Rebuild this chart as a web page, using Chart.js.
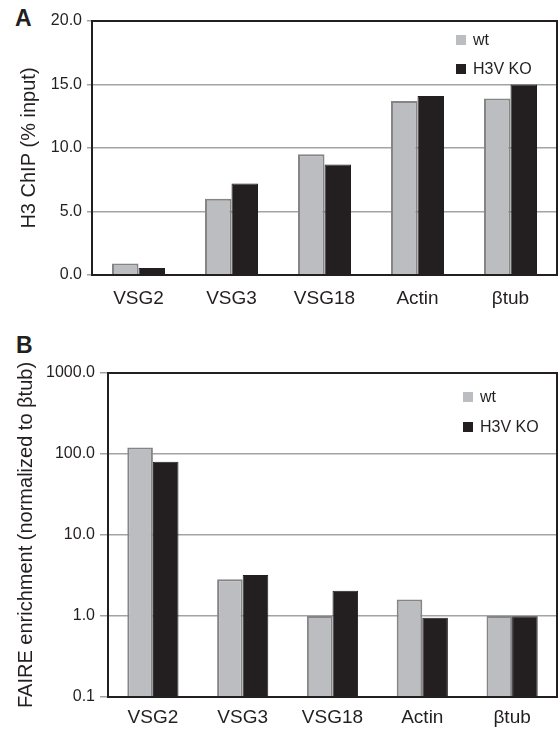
<!DOCTYPE html>
<html>
<head>
<meta charset="utf-8">
<script src="https://cdn.jsdelivr.net/npm/chart.js"></script>
<style>
body { margin: 0; background: #fff; width: 559px; height: 734px; position: relative; overflow: hidden; }
canvas { position: absolute; left: 0; }
.panel { position: absolute; font: bold 23px 'Liberation Sans', Arial, sans-serif; color: #231f20; }
</style>
</head>
<body>
<div class="panel" style="left:15px;top:5px">A</div>
<canvas id="chip" width="559" height="320" style="top:0"></canvas>
<div class="panel" style="left:16px;top:332px">B</div>
<canvas id="faire" width="559" height="414" style="top:320px"></canvas>
<script>
// values
const genes = ['VSG2', 'VSG3', 'VSG18', 'Actin', 'βtub'];
const seriesNames = ['wt', 'H3V KO'];
const chipWt = [0.9, 6.0, 9.5, 13.7, 13.9];
const chipKo = [0.55, 7.2, 8.7, 14.1, 15.0];
const faireWt = [120, 2.85, 1.0, 1.6, 1.0];
const faireKo = [80, 3.2, 2.05, 0.95, 0.99];
const chipTicks = [0, 5, 10, 15, 20];
const faireTicks = [0.1, 1, 10, 100, 1000];

const FONT = "'Liberation Sans', Arial, sans-serif";
const INK = '#231f20';
Chart.defaults.font.family = FONT;
Chart.defaults.color = INK;

// legend drawn inside the plot, upper right
const insideLegend = {
    id: 'insideLegend',
    afterDraw(chart, args, opts) {
        const ctx = chart.ctx;
        ctx.save();
        ctx.font = '16px ' + FONT;
        ctx.textBaseline = 'middle';
        chart.data.datasets.forEach((ds, i) => {
            const y = opts.y + i * opts.gap;
            ctx.fillStyle = ds.backgroundColor;
            ctx.fillRect(opts.x, y - 5, 10, 10);
            ctx.fillStyle = INK;
            ctx.fillText(ds.label, opts.x + 17, y + 1);
        });
        ctx.restore();
    }
};

// black box round the plot area
const frame = {
    id: 'frame',
    afterDraw(chart) {
        const a = chart.chartArea;
        const ctx = chart.ctx;
        ctx.save();
        ctx.strokeStyle = INK;
        ctx.lineWidth = 2;
        ctx.strokeRect(a.left, a.top, a.right - a.left, a.bottom - a.top);
        ctx.restore();
    }
};

function makeSets(wt, ko) {
    return [
        { label: seriesNames[0], data: wt, backgroundColor: '#bcbdc0', borderColor: '#858585', borderWidth: 2 },
        { label: seriesNames[1], data: ko, backgroundColor: INK, borderColor: INK, borderWidth: 1 }
    ];
}

function makeChart(id, cfg) {
    return new Chart(document.getElementById(id), {
        type: 'bar',
        data: { labels: genes, datasets: makeSets(cfg.wt, cfg.ko) },
        plugins: [insideLegend, frame],
        options: {
            responsive: false,
            animation: false,
            layout: { padding: { top: cfg.top, right: 2, left: 0, bottom: 0 } },
            datasets: { bar: { categoryPercentage: 0.57, barPercentage: 1.0 } },
            plugins: {
                legend: { display: false },
                tooltip: { enabled: false },
                insideLegend: cfg.legend
            },
            scales: {
                x: {
                    grid: { drawOnChartArea: false, drawTicks: false },
                    border: { color: INK, width: 2 },
                    ticks: { font: { size: 19 }, padding: cfg.xPad, color: INK },
                    afterFit: (s) => { s.height = cfg.xHeight; }
                },
                y: {
                    type: cfg.yType,
                    min: cfg.ticks[0],
                    max: cfg.ticks[cfg.ticks.length - 1],
                    afterBuildTicks: (s) => { s.ticks = cfg.ticks.map(v => ({ value: v })); },
                    grid: { color: '#a3a3a3', lineWidth: 1.5, tickLength: cfg.tickLen },
                    border: { color: INK, width: 2 },
                    ticks: {
                        font: { size: 16 }, color: INK, padding: cfg.yPad,
                        callback: (v) => Number(v).toFixed(1)
                    },
                    title: {
                        display: true, text: cfg.title, color: INK,
                        font: { size: 20 }, padding: { top: cfg.titlePad, bottom: 0 }
                    },
                    afterFit: (s) => { s.width = cfg.yWidth; }
                }
            }
        }
    });
}

makeChart('chip', {
    wt: chipWt, ko: chipKo, ticks: chipTicks, yType: 'linear',
    title: 'H3 ChIP (% input)', top: 21, xHeight: 45, xPad: 12,
    yWidth: 92, tickLen: 5, yPad: 5, titlePad: 17,
    legend: { x: 456, y: 40, gap: 29 }
});

makeChart('faire', {
    wt: faireWt, ko: faireKo, ticks: faireTicks, yType: 'logarithmic',
    title: 'FAIRE enrichment (normalized to βtub)', top: 53, xHeight: 37, xPad: 9,
    yWidth: 108, tickLen: 8, yPad: 5, titlePad: 14,
    legend: { x: 463, y: 77, gap: 30 }
});
</script>
</body>
</html>
